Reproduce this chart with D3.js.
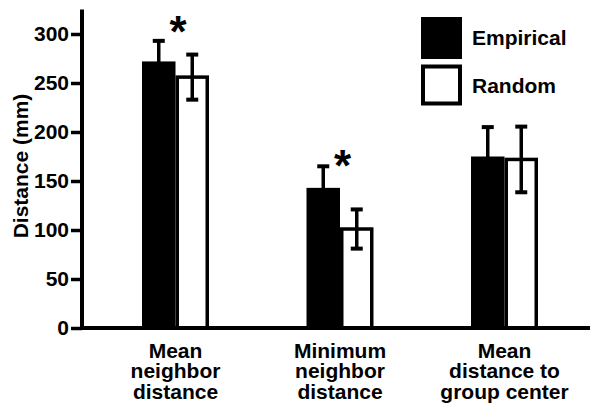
<!DOCTYPE html>
<html>
<head>
<meta charset="utf-8">
<script src="https://cdn.jsdelivr.net/npm/d3@7"></script>
<style>
  body { margin: 0; background: #fff; }
  text { font-family: "Liberation Sans", Arial, sans-serif; font-weight: bold; fill: #000; }
</style>
</head>
<body>
<div id="chart"></div>
<script>
// data
const categories = [["Mean", "neighbor", "distance"], ["Minimum", "neighbor", "distance"], ["Mean", "distance to", "group center"]];
const series = ["Empirical", "Random"];
const empirical = [272, 143, 175];
const empiricalErr = [21, 22, 30];
const random = [256, 101, 172];
const randomErr = [23, 20, 33.5];
const yTicks = [0, 50, 100, 150, 200, 250, 300];
const stars = [{ group: 0, value: 311 }, { group: 1, value: 175 }];

const width = 590;
const height = 404;

const svg = d3.select("#chart")
    .append("svg")
    .attr("width", width)
    .attr("height", height);

const catKeys = categories.map((c, i) => i);

const x = d3.scalePoint()
    .domain(catKeys)
    .range([175.5, 504.5]);

const xSub = d3.scaleBand()
    .domain(series)
    .range([-33.5, 33.5]);

const y = d3.scaleLinear()
    .domain([0, 325])
    .range([328, 9.5]);

const data = [];
catKeys.forEach(i => {
    data.push({ group: i, key: "Empirical", value: empirical[i], err: empiricalErr[i] });
    data.push({ group: i, key: "Random", value: random[i], err: randomErr[i] });
});

// bars
svg.selectAll(".bar")
    .data(data)
    .enter()
    .append("rect")
    .attr("class", "bar")
    .attr("x", d => x(d.group) + xSub(d.key) + (d.key === "Random" ? 1.75 : 0))
    .attr("y", d => y(d.value))
    .attr("width", d => xSub.bandwidth() - (d.key === "Random" ? 3.5 : 0))
    .attr("height", d => y(0) - y(d.value))
    .attr("fill", d => d.key === "Empirical" ? "#000" : "#fff")
    .attr("stroke", d => d.key === "Empirical" ? "none" : "#000")
    .attr("stroke-width", 3.5);

// error bars
const errG = svg.selectAll(".err")
    .data(data)
    .enter()
    .append("g")
    .attr("class", "err")
    .attr("transform", d => `translate(${x(d.group) + xSub(d.key) + xSub.bandwidth() / 2},0)`);

errG.append("line")
    .attr("x1", 0).attr("x2", 0)
    .attr("y1", d => y(d.value - d.err))
    .attr("y2", d => y(d.value + d.err))
    .attr("stroke", "#000")
    .attr("stroke-width", 3.5);

errG.selectAll(".cap")
    .data(d => [d.value + d.err, d.value - d.err])
    .enter()
    .append("line")
    .attr("x1", -6).attr("x2", 6)
    .attr("y1", v => y(v))
    .attr("y2", v => y(v))
    .attr("stroke", "#000")
    .attr("stroke-width", 4);

// y axis
const yAxis = svg.append("g")
    .attr("transform", "translate(82,0)")
    .call(d3.axisLeft(y).tickValues(yTicks).tickSize(11).tickPadding(2));

yAxis.select(".domain")
    .attr("d", `M0,${y(325)}V${y(0) + 2}`)
    .attr("stroke", "#000")
    .attr("stroke-width", 4);

yAxis.selectAll(".tick line")
    .attr("stroke", "#000")
    .attr("stroke-width", 3.5);

yAxis.selectAll(".tick text")
    .attr("font-size", 21)
    .attr("font-family", "Liberation Sans, Arial, sans-serif")
    .attr("font-weight", "bold")
    .attr("fill", "#000");

// x axis line
svg.append("line")
    .attr("x1", 80).attr("x2", width)
    .attr("y1", y(0)).attr("y2", y(0))
    .attr("stroke", "#000")
    .attr("stroke-width", 4);

// y label
svg.append("text")
    .attr("transform", "translate(28,166) rotate(-90)")
    .attr("text-anchor", "middle")
    .attr("font-size", 21)
    .text("Distance (mm)");

// category labels
const catText = svg.selectAll(".cat")
    .data(categories)
    .enter()
    .append("text")
    .attr("class", "cat")
    .attr("text-anchor", "middle")
    .attr("font-size", 21)
    .attr("y", 357.5);

catText.selectAll("tspan")
    .data((d, i) => d.map(s => ({ s, i })))
    .enter()
    .append("tspan")
    .attr("x", d => x(d.i))
    .attr("dy", (d, j) => j === 0 ? 0 : 20.5)
    .text(d => d.s);

// significance asterisks
svg.selectAll(".star")
    .data(stars)
    .enter()
    .append("text")
    .attr("class", "star")
    .attr("text-anchor", "middle")
    .attr("font-size", 44)
    .attr("x", d => x(d.group) + 2.5)
    .attr("y", d => y(d.value) + 24)
    .text("*");

// legend
const legend = svg.selectAll(".legend")
    .data(series)
    .enter()
    .append("g")
    .attr("class", "legend")
    .attr("transform", (d, i) => `translate(421,${17 + i * 47.5})`);

legend.append("rect")
    .attr("x", d => d === "Empirical" ? 0 : 2)
    .attr("y", d => d === "Empirical" ? 0 : 2)
    .attr("width", d => d === "Empirical" ? 41 : 37)
    .attr("height", d => d === "Empirical" ? 42 : 37)
    .attr("fill", d => d === "Empirical" ? "#000" : "#fff")
    .attr("stroke", d => d === "Empirical" ? "none" : "#000")
    .attr("stroke-width", 4);

legend.append("text")
    .attr("x", 51)
    .attr("y", 28)
    .attr("font-size", 21)
    .text(d => d);
</script>
</body>
</html>
